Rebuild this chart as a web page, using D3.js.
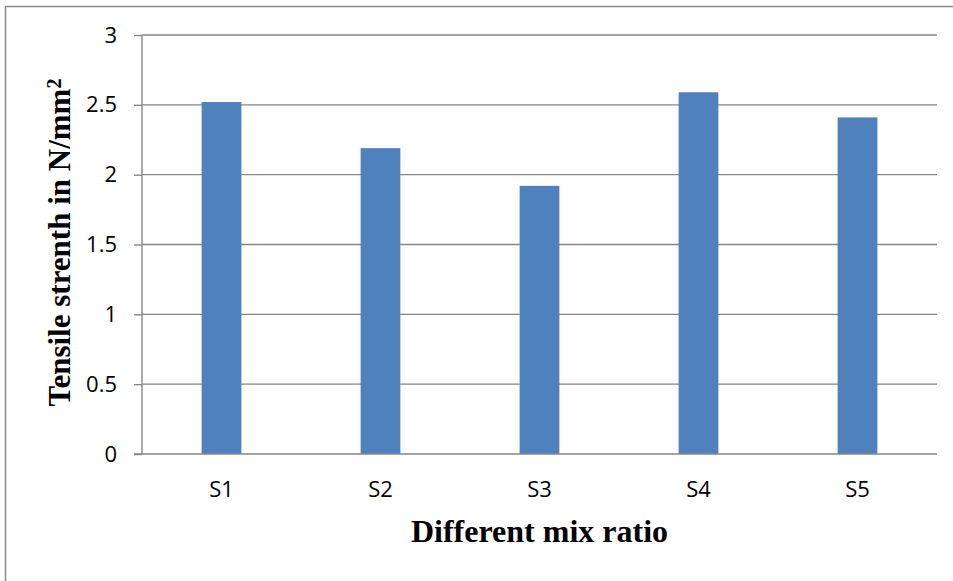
<!DOCTYPE html>
<html>
<head>
<meta charset="utf-8">
<script src="https://cdn.jsdelivr.net/npm/d3@7"></script>
<style>
  body { margin: 0; background: #fff; }
  .axis text { font-family: "Open Sans", sans-serif; font-size: 22px; fill: #000; }
  .axis path, .axis line { stroke: #868686; stroke-width: 1.4px; }
  .grid line { stroke: #868686; stroke-width: 1.4px; }
  .axis-title { font-family: "Liberation Serif", "Times New Roman", serif; font-weight: bold; font-size: 31px; fill: #000; }
</style>
</head>
<body>
<div id="chart"></div>
<script>
// data
var categories = ["S1", "S2", "S3", "S4", "S5"];
var strength = [2.52, 2.19, 1.92, 2.59, 2.41];
var yTicks = [0, 0.5, 1, 1.5, 2, 2.5, 3];

// Set Margins
var margin = {top: 35, right: 16, bottom: 127, left: 142},
    width = 953 - margin.left - margin.right,
    height = 581 - margin.top - margin.bottom;

var svg = d3.select("#chart")
  .append("svg")
    .attr("width", 953)
    .attr("height", 581);

// outer frame (runs off the picture on right and bottom)
svg.append("rect")
  .attr("x", 5.5)
  .attr("y", 6.5)
  .attr("width", 1000)
  .attr("height", 1000)
  .attr("fill", "none")
  .attr("stroke", "#8c8c8c")
  .attr("stroke-width", 1.5);

var g = svg.append("g")
  .attr("transform", "translate(" + margin.left + "," + margin.top + ")");

var x = d3.scaleBand().domain(categories).range([0, width]);
var y = d3.scaleLinear().domain([0, 3]).range([height, 0]);

// gridlines
g.append("g")
  .attr("class", "grid")
  .selectAll("line")
  .data(yTicks.slice(1))
  .enter().append("line")
    .attr("x1", 0)
    .attr("x2", width)
    .attr("y1", function(d) { return y(d); })
    .attr("y2", function(d) { return y(d); });

// bars, gap width 300%
var barW = x.bandwidth() / 4;
g.selectAll(".bar")
  .data(strength)
  .enter().append("rect")
    .attr("class", "bar")
    .attr("x", function(d, i) { return x(categories[i]) + (x.bandwidth() - barW) / 2; })
    .attr("width", barW)
    .attr("y", function(d) { return y(d); })
    .attr("height", function(d) { return height - y(d); })
    .attr("fill", "#4F81BD");

g.append("g")
  .attr("class", "axis axis--y")
  .call(d3.axisLeft(y).tickValues(yTicks).tickSize(8).tickPadding(17).tickFormat(function(d) { return d; }))
  .call(function(a) { a.select(".domain").attr("d", "M0," + height + "V0"); });

g.append("g")
  .attr("class", "axis axis--x")
  .attr("transform", "translate(0," + height + ")")
  .call(d3.axisBottom(x).tickSize(0).tickPadding(27))
  .call(function(a) { a.select(".domain").attr("d", "M-8,0H" + width); });

// axis titles
svg.append("text")
  .attr("class", "axis-title")
  .attr("x", margin.left + width / 2)
  .attr("y", 542)
  .style("text-anchor", "middle")
  .style("font-size", "32px")
  .text("Different mix ratio");

var yt = svg.append("text")
  .attr("class", "axis-title")
  .attr("transform", "translate(70," + (margin.top + height / 2 - 2) + ") rotate(-90)")
  .style("text-anchor", "middle");
yt.append("tspan").text("Tensile strenth in N/mm");
yt.append("tspan").attr("dy", "-0.45em").style("font-size", "20px").text("2");
</script>
</body>
</html>
